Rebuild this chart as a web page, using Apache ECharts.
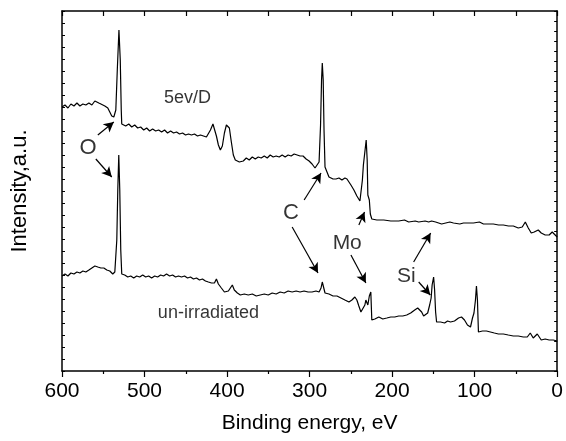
<!DOCTYPE html>
<html><head><meta charset="utf-8">
<script src="https://cdn.jsdelivr.net/npm/echarts@6/dist/echarts.min.js"></script>
<style>html,body{margin:0;padding:0;background:#fff}#c{width:566px;height:441px}</style>
</head><body><div id="c"></div>
<script>
// Binding energy (eV), intensity (a.u.)
var irradiated = [
[600.0,264],[596.4,266],[592.8,263],[589.2,267],[585.5,265],[581.9,268],[578.3,265],[574.7,267],[571.1,266],[567.4,268],[563.8,266],[560.2,270],[557.8,271],[555.4,268],[552.9,267],[548.1,265],[544.5,263],[542.1,259],[539.7,255],[537.2,254],[534.8,261],[533.0,301],[531.0,341],[529.4,311],[528.2,261],[527.6,247],[525.2,248],[522.8,245],[519.1,247],[515.5,244],[511.9,246],[508.3,243],[504.7,244],[501.0,241],[497.4,243],[493.8,240],[490.2,242],[486.5,240],[482.9,241],[479.3,239],[475.7,241],[472.1,238],[468.4,240],[464.8,238],[461.2,239],[457.6,237],[453.9,238],[450.3,236],[446.7,237],[443.1,236],[439.5,237],[435.8,235],[432.2,236],[428.6,235],[425.0,234],[422.6,235],[420.1,241],[417.1,247],[415.3,245],[412.9,235],[410.5,226],[408.1,221],[405.7,225],[403.2,238],[400.8,246],[399.0,248],[397.2,243],[394.8,229],[392.4,216],[390.0,211],[385.1,209],[380.3,210],[376.7,213],[373.1,211],[369.4,214],[365.8,212],[362.2,214],[358.6,213],[354.9,215],[351.3,213],[347.7,216],[344.1,214],[340.5,215],[336.8,214],[333.2,216],[329.6,214],[326.0,216],[322.3,215],[318.7,217],[315.1,216],[311.5,215],[307.9,215],[304.2,212],[300.6,210],[297.0,207],[293.4,203],[291.0,201],[288.5,209],[286.7,246],[285.5,291],[284.6,308],[283.5,291],[282.5,241],[281.3,204],[278.9,199],[276.5,194],[274.1,196],[271.6,192],[268.0,192],[264.4,193],[260.8,191],[257.2,193],[254.7,192],[252.3,190],[249.9,186],[246.3,181],[242.7,175],[239.0,170],[237.2,169],[236.0,191],[234.8,206],[233.0,207],[231.4,231],[230.2,211],[229.4,176],[227.6,171],[226.4,157],[224.6,152],[218.5,151],[210.1,151],[201.6,150],[192.0,150],[185.0,151],[179.9,149],[172.0,150],[167.8,149],[160.0,150],[155.7,149],[152.1,150],[147.3,149],[140.0,147],[137.6,148],[130.0,149],[125.6,148],[118.0,147],[113.5,148],[107.0,148],[101.4,148],[94.2,149],[89.3,147],[83.0,147],[77.3,147],[71.0,146],[65.2,146],[59.0,145],[53.1,145],[47.1,143],[42.3,144],[38.6,149],[35.0,143],[31.4,138],[27.8,139],[22.9,141],[19.3,138],[14.5,136],[9.7,136],[6.0,139],[2.4,136],[0,134]
];
var unirradiated = [
[600.0,95],[596.4,97],[592.8,95],[589.2,98],[585.5,97],[581.9,99],[578.3,98],[574.7,100],[571.1,99],[567.4,101],[563.8,103],[560.2,105],[556.6,104],[552.9,103],[549.3,103],[545.7,101],[542.1,100],[538.5,97],[536.0,99],[533.6,131],[532.4,181],[531.2,216],[530.0,181],[528.8,121],[527.6,97],[524.0,96],[520.3,94],[516.7,95],[513.1,93],[509.5,95],[505.9,94],[502.2,96],[498.6,94],[495.0,95],[491.4,93],[487.7,95],[484.1,94],[480.5,96],[476.9,95],[473.3,97],[469.6,95],[466.0,96],[462.4,94],[458.8,95],[455.2,94],[451.5,95],[447.9,93],[444.3,94],[440.7,92],[437.0,93],[433.4,91],[429.8,92],[426.2,90],[422.6,89],[418.9,88],[415.3,88],[412.9,92],[410.5,87],[406.9,83],[403.2,79],[400.8,78],[398.4,80],[396.0,82],[393.6,86],[391.2,81],[387.5,78],[383.9,76],[379.1,77],[374.3,76],[369.4,77],[364.6,75],[359.8,76],[354.9,77],[350.1,76],[345.3,78],[340.5,77],[335.6,79],[330.8,78],[326.0,80],[321.1,79],[316.3,80],[311.5,79],[306.7,80],[301.8,79],[297.0,79],[292.2,80],[288.5,79],[286.1,83],[284.6,89],[283.1,84],[281.3,78],[276.5,77],[271.6,75],[266.8,75],[262.0,73],[257.2,71],[252.3,69],[248.7,71],[245.1,74],[242.7,71],[240.3,65],[237.8,59],[235.4,58],[233.0,66],[231.8,71],[229.4,66],[227.6,75],[225.8,79],[224.6,51],[220.9,52],[216.1,54],[211.3,52],[206.4,53],[201.6,54],[196.8,54],[192.0,55],[187.1,55],[182.3,56],[177.5,58],[172.6,61],[169.0,63],[166.6,62],[164.2,59],[161.8,55],[159.4,54],[156.9,58],[154.5,66],[152.7,73],[151.5,86],[149.7,94],[148.5,81],[147.3,59],[146.1,49],[141.3,49],[136.4,48],[132.8,50],[129.2,49],[124.4,50],[119.5,53],[115.9,54],[112.3,51],[108.7,46],[105.0,44],[102.6,53],[100.8,58],[99.0,71],[97.8,85],[96.6,71],[95.4,39],[90.5,40],[85.7,40],[80.9,39],[76.1,38],[71.2,37],[65.2,37],[59.2,36],[53.1,35],[47.1,35],[41.0,34],[36.2,34],[32.6,38],[29.0,33],[24.1,37],[19.3,31],[14.5,32],[9.7,31],[4.8,31],[0,30]
];
var xTicks = [0, 100, 200, 300, 400, 500, 600];
var labelTexts = ['5ev/D', 'O', 'C', 'Mo', 'Si', 'un-irradiated'];
var labelPos = [[447.9,273],[568.3,223],[322.7,158],[254.4,128],[182.7,95],[422.6,58]];
var labelSizes = [18, 22, 22, 21, 21, 18];
// arrows: [tail, head] in (eV, intensity)
var arrows = [
  [[556.6,236],[537.2,249]],
  [[559.0,212],[539.7,194]],
  [[306.6,171],[286.1,198]],
  [[321.1,144],[289.8,98]],
  [[240.3,146],[233.4,159]],
  [[249.9,116],[231.8,88]],
  [[173.9,109],[153.3,138]],
  [[167.8,89],[153.7,76]]
];

var chart = echarts.init(document.getElementById('c'), null, {renderer:'canvas'});
var font = 'Liberation Sans, Arial, sans-serif';
function line(){ return {show:true, onZero:false, lineStyle:{color:'#000', width:1.5}}; }
chart.setOption({
  animation:false,
  backgroundColor:'#fff',
  grid:{left:62, right:7, top:11, bottom:70},
  xAxis:[{
    type:'value', min:0, max:600, interval:100, inverse:true, position:'bottom',
    axisLine:line(),
    axisTick:{show:true, inside:false, length:6, lineStyle:{color:'#000', width:1.2}},
    minorTick:{show:true, splitNumber:2, length:3, lineStyle:{color:'#000', width:1.2}},
    axisLabel:{show:true, color:'#000', fontSize:21, fontFamily:font, margin:10},
    splitLine:{show:false},
    name:'Binding energy, eV', nameLocation:'middle', nameGap:42,
    nameTextStyle:{color:'#000', fontSize:21, fontFamily:font}
  },{
    type:'value', min:0, max:600, interval:50, inverse:true, position:'top',
    axisLine:line(),
    axisTick:{show:true, inside:true, length:5, lineStyle:{color:'#000', width:1.2}},
    axisLabel:{show:false}, splitLine:{show:false}
  }],
  yAxis:[{
    type:'value', min:0, max:360, interval:12, position:'left',
    axisLine:line(),
    axisTick:{show:true, inside:true, length:3, lineStyle:{color:'#000', width:1}},
    axisLabel:{show:false}, splitLine:{show:false},
    name:'Intensity,a.u.', nameLocation:'middle', nameGap:31,
    nameTextStyle:{color:'#000', fontSize:22, fontFamily:font}
  },{
    type:'value', min:0, max:360, interval:10, position:'right',
    axisLine:line(),
    axisTick:{show:true, inside:true, length:3, lineStyle:{color:'#000', width:1}},
    axisLabel:{show:false}, splitLine:{show:false}
  }],
  series:[{
    type:'line', name:'5ev/D', data:irradiated, xAxisIndex:0, yAxisIndex:0,
    symbol:'none', lineStyle:{color:'#000', width:1.2}, silent:true,
    markLine:{
      silent:true, symbol:['none','arrow'], symbolSize:[8,10],
      lineStyle:{color:'#000', width:1.2, type:'solid'},
      label:{show:false},
      data: arrows.map(function(a){ return [{coord:a[0]},{coord:a[1]}]; })
    }
  },{
    type:'line', name:'un-irradiated', data:unirradiated, xAxisIndex:0, yAxisIndex:0,
    symbol:'none', lineStyle:{color:'#000', width:1.2}, silent:true
  },{
    type:'scatter', symbolSize:0, silent:true,
    data: labelTexts.map(function(t,i){ return {name:t, value:labelPos[i],
      label:{fontSize:labelSizes[i]}}; }),
    label:{show:true, position:'inside', formatter:'{b}', color:'#000', fontFamily:font, fontSize:18}
  }]
});
</script></body></html>
